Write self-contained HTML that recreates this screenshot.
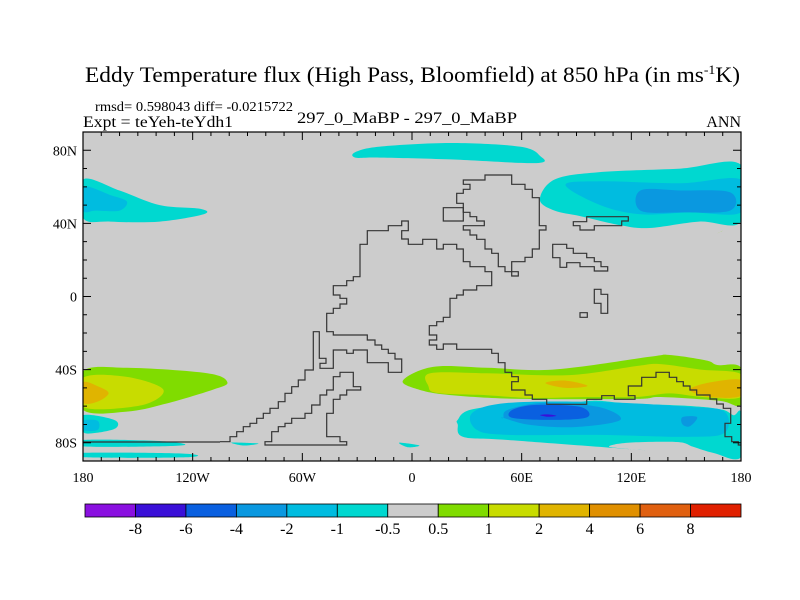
<!DOCTYPE html>
<html><head><meta charset="utf-8"><style>
html,body{margin:0;padding:0;background:#fff;}
svg{display:block;font-family:"Liberation Serif",serif;}
</style></head><body>
<svg id="chart" width="800" height="600" viewBox="0 0 800 600" xmlns="http://www.w3.org/2000/svg">
<text x="85" y="82" font-size="22" textLength="655" lengthAdjust="spacingAndGlyphs">Eddy Temperature flux (High Pass, Bloomfield) at 850 hPa (in ms<tspan dy="-8" font-size="13">-1</tspan><tspan dy="8">K)</tspan></text>
<text x="95" y="111" font-size="13.5" textLength="198" lengthAdjust="spacingAndGlyphs">rmsd= 0.598043 diff= -0.0215722</text>
<text x="83" y="127" font-size="16" textLength="150" lengthAdjust="spacingAndGlyphs">Expt = teYeh-teYdh1</text>
<text x="297" y="123" font-size="16" textLength="220" lengthAdjust="spacingAndGlyphs">297_0_MaBP - 297_0_MaBP</text>
<text x="741" y="127" font-size="16" text-anchor="end">ANN</text>
<defs><clipPath id="plotclip"><rect x="83" y="132" width="658" height="329"/></clipPath></defs>
<rect x="83" y="132" width="658" height="329" fill="#cccccc"/>
<g id="fills" clip-path="url(#plotclip)"></g>
<g id="coast" clip-path="url(#plotclip)" fill="none" stroke="#333" stroke-width="1.2"></g>
<g id="axes"></g>
<g id="colorbar"></g>
</svg>
<script>
// colour levels
const levelLabels = ["-8","-6","-4","-2","-1","-0.5","0.5","1","2","4","6","8"];
const levelColors = ["#8a10e0","#3a10d8","#0a60e0","#0a98e0","#00bce0","#00d8d0","#cccccc","#80dc00","#c8dc00","#e0b400","#e09000","#e06010","#e02000"];
// contour regions: [level index, polygon in lon/lat]
const blobLevels = [5,5,4,5,4,3,7,7,8,9,5,4,5,5,7,8,9,9,5,4,3,2,1,5,5,3];
const blobLons = [
 [-31,-17.5,21,59,70,68,21,-17.5,-31],
 [-180,-160,-138,-116,-114,-138,-165,-180],
 [-180,-165,-156,-160,-173,-180],
 [70,78,102,147,180,180,157,130,114,92,78],
 [84,103,147,180,180,152,125,103],
 [125,147,174,174,147,125],
 [168,170,167],
 [-180,-156,-112,-101,-109,-136,-156,-180],
 [-180,-156,-136,-148,-180],
 [-180,-171,-166,-172,-180],
 [-180,-163,-162,-173,-180],
 [-180,-172,-172,-180],
 [-180,-140,-124,-140,-180],
 [-99,-92,-84,-92],
 [-5,11.5,41,77,130,141,161,167,180,180,168,136,122,59,22,4],
 [10,41,86,123,136,158,180,180,159,141,123,96,64.5,41,14,9],
 [73,84,96,84],
 [152,163,180,180,163],
 [25,32,59,81,99,118,154,170,176,180,180,165,154,145,118,108,126,52.5,28,25],
 [33,52.5,102,151,171,171,151,102,52.5,35.5],
 [50,52.5,72,102,114,90,65,50],
 [55,68,92,96,77,55],
 [70,74.4,79,74.4],
 [-7,4,-2],
 [-180,-124,-124,-180],
 [148,156,152,148]
];
const blobLats = [
 [79,82,84,82,77,73,75,76,76],
 [64,58,50,48,45,41,41,43],
 [60,55.5,52,47,47,47],
 [53,64,68,70,72,41,41,37.5,39,44,47],
 [61,63,62,64,46,46,45,50],
 [58,58,57,47,46,47],
 [35,36,34.5],
 [-41,-39,-42,-47,-51,-59,-63,-62],
 [-44.5,-44,-51,-59.5,-60.5],
 [-47,-49.5,-53,-57.5,-58],
 [-65,-67.5,-72,-74.6,-74],
 [-68,-68,-73,-73],
 [-78.5,-79,-81,-82,-82],
 [-80,-80,-80.5,-81.5],
 [-46,-38.5,-39,-40,-33,-32,-35,-37.5,-39,-59,-57,-55,-56,-56,-54,-51],
 [-42,-42,-43,-38,-37,-40,-42.5,-55,-55,-53,-55,-55,-55.5,-54,-52.8,-49],
 [-47.3,-46,-48.9,-50],
 [-51,-47,-45.7,-54.4,-55],
 [-67.5,-62,-58.5,-59,-57,-58.5,-60,-62,-65,-63.7,-87.8,-85.6,-82.3,-79.6,-80,-82.3,-84,-78.5,-76.8,-70],
 [-63.7,-58.2,-57.7,-60.4,-63,-74.6,-76.8,-75.7,-75.7,-73],
 [-66.4,-62,-58.2,-60.4,-67.5,-71.4,-70.3,-66.4],
 [-62,-59.3,-60.4,-66,-67.5,-66.4],
 [-64.9,-64.5,-65.3,-65.8],
 [-80,-81.5,-82.5],
 [-85.5,-86,-88,-88],
 [-66,-66,-71,-70]
];
const xTickVals=[-180,-120,-60,0,60,120,180];
const xTickLabels=["180","120W","60W","0","60E","120E","180"];
const yTickVals=[80,40,0,-40,-80];
const yTickLabels=["80N","40N","0","40S","80S"];

const NS="http://www.w3.org/2000/svg";
const X0=83,X1=741,Y0=132,Y1=461;
function xs(lon){return X0+(lon+180)/360*(X1-X0);}
function ys(lat){return Y0+(90-lat)/180*(Y1-Y0);}
function mk(tag,attrs,parent){const e=document.createElementNS(NS,tag);for(const k in attrs)e.setAttribute(k,attrs[k]);parent.appendChild(e);return e;}
function smooth(pts){
 const n=pts.length;let d="M"+pts[0][0].toFixed(1)+","+pts[0][1].toFixed(1);
 for(let i=0;i<n;i++){
  const p0=pts[(i-1+n)%n],p1=pts[i],p2=pts[(i+1)%n],p3=pts[(i+2)%n];
  const c1=[p1[0]+(p2[0]-p0[0])/6,p1[1]+(p2[1]-p0[1])/6];
  const c2=[p2[0]-(p3[0]-p1[0])/6,p2[1]-(p3[1]-p1[1])/6];
  d+="C"+c1[0].toFixed(1)+","+c1[1].toFixed(1)+" "+c2[0].toFixed(1)+","+c2[1].toFixed(1)+" "+p2[0].toFixed(1)+","+p2[1].toFixed(1);
 }
 return d+"Z";
}
const fills=document.getElementById('fills');
for(let b=0;b<blobLevels.length;b++){
 const pts=blobLons[b].map((lo,i)=>[xs(lo),ys(blobLats[b][i])]);
 const p=mk('path',{d:smooth(pts),fill:levelColors[blobLevels[b]]},fills);
 
 
}
// coastlines (map geometry, traced in reference-zoom coordinates)
function zpath(arr,ox,oy,closed){let d="";for(let i=0;i<arr.length;i+=2){d+=(i?"L":"M")+(ox+arr[i]/3).toFixed(1)+","+(oy+arr[i+1]/3).toFixed(1);}return d+(closed?"Z":"");}
const coast=document.getElementById('coast');
const coastA=[0,845,30,845,30,830,50,830,50,815,70,815,70,800,90,800,90,790,110,790,110,775,130,775,130,760,150,760,150,745,175,745,175,725,195,725,195,700,215,700,215,680,235,680,235,660,255,660,255,630,280,630,280,515,298,515,298,595,318,595,318,610,300,610,300,625,340,625,340,570,380,570,380,580,400,580,400,570,442,570,442,608,505,608,505,637,545,637,545,597,525,597,525,580,505,580,505,568,485,568,485,555,465,555,465,540,442,540,442,525,340,525,340,515,320,515,320,460,340,460,340,445,360,445,360,432,380,432,380,415,360,415,360,405,340,405,340,377,380,377,380,362,400,362,400,350,420,350,420,253,442,253,442,212,505,212,505,197,545,197,545,183,565,183,565,212,545,212,545,237,565,237,565,253,608,253,608,238,650,238,650,267,670,267,670,253,710,253,710,267,730,267,730,305,750,305,750,320,795,320,795,335,815,335,815,377,770,377,770,390,730,390,730,405,710,405,710,415,690,415,690,472,670,472,670,485,650,485,650,497,628,497,628,525,650,525,650,540,628,540,628,555,650,555,650,568,670,568,670,552,710,552,710,568,815,568,815,580,835,580,835,608,855,608,855,637,875,637,875,650,895,650,895,665,875,665,875,690,915,690,915,705,937,705,937,718,980,718,980,733,1100,733,1100,718];
const coastB=[80,298,125,298,125,287,163,287,163,298,225,298,225,287,205,287,205,258,245,258,245,232,288,232,288,217,328,217,328,232,350,232,350,245,370,245,370,258,390,258,390,270,410,270,410,285,450,285,450,297,470,297,470,312,490,312,490,325,512,325,512,370,495,370,495,410,515,410,515,425,535,425,535,435,545,435];
const coastSA=[135,845,155,845,155,815,175,815,175,800,195,800,195,790,215,790,215,775,255,775,255,760,275,760,275,735,300,735,300,705,320,705,320,690,340,690,340,650,360,650,360,637,400,637,400,680,422,680,422,690,380,690,380,705,360,705,360,718,340,718,340,760,320,760,320,830,360,830,360,845,380,845,380,855,135,855];
const coastN=[795,45,875,45,875,73,915,73,915,88,937,88,937,113,958,113,958,197,978,197,978,210,958,210,958,267,937,267,937,292,915,292,915,305,875,305,875,348,895,348,895,335,855,335,855,320,835,320,835,280,815,280,815,267,795,267,795,238,770,238,770,225,750,225,750,210,730,210,730,197,793,197,793,183,770,183,770,170,750,170,750,157,730,157,730,130,710,130,710,100,730,100,730,88,750,88,750,73,730,73,730,60,795,60];
const coastR=[670,143,730,143,730,183,670,183];
const coastJ=[998,253,1040,253,1040,265,1060,265,1060,280,1100,280,1100,293,1123,293,1123,305,1143,305,1143,320,1163,320,1163,333,1123,333,1123,320,1080,320,1080,308,1040,308,1040,322,1020,322,1020,293,998,293];
const coastI=[1123,388,1143,388,1143,403,1163,403,1163,460,1143,460,1143,430,1123,430];
const coastS=[1080,458,1102,458,1102,472,1080,472];
const coastK=[1060,185,1100,185,1100,170,1225,170,1225,183,1205,183,1205,197,1123,197,1123,210,1080,210,1080,197,1060,197];
[[coastA,220,160,false],[coastSA,220,160,true],[coastN,220,160,true],[coastR,220,160,true],[coastJ,220,160,true],[coastI,220,160,true],[coastS,220,160,true],[coastK,220,160,true]].forEach((c,i)=>{
 const p=mk('path',{d:zpath(c[0],c[1],c[2],c[3])},coast);
 
 
});
{const p=mk('path',{d:zpath(coastB,560,300,false)},coast);
 
 }
{const p=mk('path',{d:"M83,442H220"},coast);
 
 }
// axes
const axes=document.getElementById('axes');
{const r=mk('rect',{x:X0,y:Y0,width:X1-X0,height:Y1-Y0,fill:'none',stroke:'#000','stroke-width':1.2},axes);
 
 }
let td="";
for(let lo=-180;lo<=180;lo+=10){const x=xs(lo),L=(lo%60===0)?8:4;td+=`M${x},${Y1}v${-L}M${x},${Y0}v${L}`;}
for(let la=-90;la<=90;la+=10){const y=ys(la),L=(la%40===0)?8:4;td+=`M${X0},${y}h${L}M${X1},${y}h${-L}`;}
{const t=mk('path',{d:td,stroke:'#000','stroke-width':1,fill:'none'},axes);
 
 }
xTickVals.forEach((v,i)=>{const t=mk('text',{x:xs(v),y:482,'font-size':14,'text-anchor':'middle'},axes);t.textContent=xTickLabels[i];
 
 });
yTickVals.forEach((v,i)=>{const t=mk('text',{x:77,y:ys(v)+5,'font-size':14,'text-anchor':'end'},axes);t.textContent=yTickLabels[i];
 
 });
// colorbar
const cb=document.getElementById('colorbar');
const CB0=85,CB1=741,CBY=504,CBH=13,bw=(CB1-CB0)/levelColors.length;
levelColors.forEach((c,i)=>{const r=mk('rect',{x:CB0+i*bw,y:CBY,width:bw,height:CBH,fill:c,stroke:'#000','stroke-width':0.8},cb);
 
 });
levelLabels.forEach((l,i)=>{const t=mk('text',{x:CB0+(i+1)*bw,y:534,'font-size':16,'text-anchor':'middle'},cb);t.textContent=l;
 
 });
</script>
</body></html>
